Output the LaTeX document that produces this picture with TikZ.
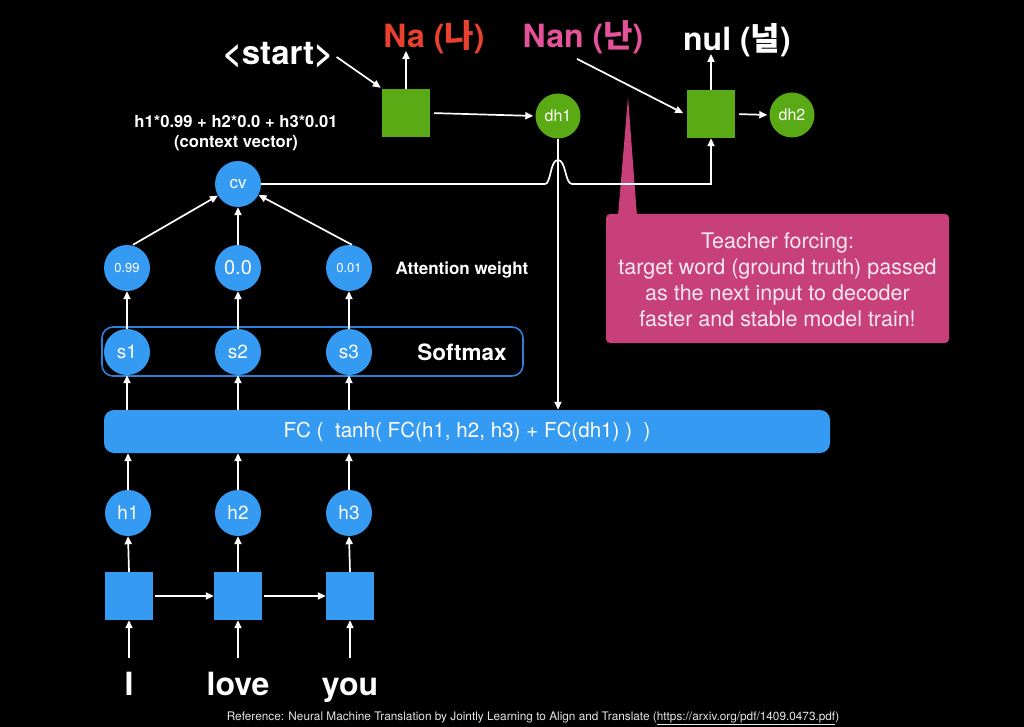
\documentclass[tikz,border=0pt]{standalone}
\usepackage{fontspec}
\setmainfont{TeX Gyre Heros}
\newfontfamily\kr{Noto Sans CJK KR}
\usetikzlibrary{arrows.meta}
\definecolor{cblue}{RGB}{52,154,242}
\definecolor{cbluedark}{RGB}{44,128,215}
\definecolor{cgreen}{RGB}{90,170,22}
\definecolor{cred}{RGB}{234,64,48}
\definecolor{cpinktxt}{RGB}{228,82,154}
\definecolor{cpink}{RGB}{200,64,122}
\definecolor{cpinklight}{RGB}{250,232,240}
\newcommand{\fsz}[1]{\fontsize{#1}{#1}\selectfont}
\begin{document}
\begin{tikzpicture}[x=1pt,y=-1pt,
  bcirc/.style={circle, fill=cblue, minimum size=46pt, inner sep=0pt, text=white, font=\fsz{19}},
  gcirc/.style={circle, fill=cgreen, minimum size=45pt, inner sep=0pt, text=white, font=\fsz{16}},
  bsq/.style={rectangle, fill=cblue, minimum size=48pt, inner sep=0pt},
  gsq/.style={rectangle, fill=cgreen, minimum size=48pt, inner sep=0pt},
  arr/.style={-{Triangle[length=8pt,width=7pt]}, white, line width=1.7pt},
  biglabel/.style={font=\bfseries\fsz{32}, inner sep=0pt},
  wtext/.style={text=white, inner sep=0pt}
]
\fill[black] (0,0) rectangle (1024,727);
\useasboundingbox (0,0) rectangle (1024,727);

% top labels
\node[biglabel, font=\bfseries\fsz{33}, text=white] (start) at (278,55) {<start>};
\node[biglabel, text=cred] (na) at (434,37) {Na ({\kr 나})};
\node[biglabel, text=cpinktxt] (nan) at (583,37) {Nan ({\kr 난})};
\node[biglabel, text=white] (nul) at (737,40) {nul ({\kr 널})};

% decoder
\node[gsq] (g1) at (406,113) {};
\node[gsq] (g2) at (711,114) {};
\node[gcirc] (dh1) at (558,116) {dh1};
\node[gcirc] (dh2) at (792,115) {dh2};

% context vector
\node[wtext, font=\bfseries\fsz{16.6}, align=center] (cvtext) at (236,133) {h1*0.99 + h2*0.0 + h3*0.01\\[4pt](context vector)};
\node[bcirc, font=\fsz{17}] (cv) at (238,184) {cv};

% attention weights
\node[bcirc, font=\fsz{13}] (a1) at (127,268) {0.99};
\node[bcirc, font=\fsz{20}] (a2) at (238,268) {0.0};
\node[bcirc, font=\fsz{13}] (a3) at (349,268) {0.01};
\node[wtext, font=\bfseries\fsz{17}] (attn) at (462,270) {Attention weight};

% softmax
\node[bcirc] (s1) at (127,352) {s1};
\node[bcirc] (s2) at (238,352) {s2};
\node[bcirc] (s3) at (349,352) {s3};
\node[draw=cbluedark, line width=1.6pt, rounded corners=11pt, minimum width=421pt, minimum height=49pt, inner sep=0pt] (smbox) at (312.5,351.5) {};
\node[wtext, font=\bfseries\fsz{22.5}] (smtext) at (462,352) {Softmax};

% FC bar
\node[fill=cblue, rounded corners=10pt, minimum width=726pt, minimum height=43pt, inner sep=0pt, text=white, font=\fsz{20.6}] (fc) at (467,431.5) {FC (\ \ tanh( FC(h1, h2, h3) + FC(dh1) ) \ )};

% encoder
\node[bcirc] (h1) at (128,513) {h1};
\node[bcirc] (h2) at (238,513) {h2};
\node[bcirc] (h3) at (349,513) {h3};
\node[bsq] (e1) at (129,596) {};
\node[bsq] (e2) at (238,596) {};
\node[bsq] (e3) at (350,596) {};
\node[wtext, font=\bfseries\fsz{32}, anchor=base] (w1) at (129,695) {I};
\node[wtext, font=\bfseries\fsz{32}, anchor=base] (w2) at (238,695) {love};
\node[wtext, font=\bfseries\fsz{32}, anchor=base] (w3) at (350,695) {you};
\coordinate (i1) at (129,658);
\coordinate (i2) at (238,658);
\coordinate (i3) at (350,658);

% callout
\fill[cpink] (618,216) -- (628,97) -- (637,216) -- cycle;
\node[fill=cpink, rounded corners=4pt, minimum width=343pt, minimum height=129pt, inner sep=0pt] (callout) at (777.5,278.5) {};
\node[text=cpinklight, font=\fsz{21.5}, align=center, inner sep=0pt] (callouttext) at (777.5,280) {Teacher forcing:\\[4.5pt]target word (ground truth) passed\\[4.5pt]as the next input to decoder\\[4.5pt]faster and stable model train!};

% reference
\node[text=white!80!gray, font=\fsz{11.8}, inner sep=0pt] (ref) at (533,718) {Reference: Neural Machine Translation by Jointly Learning to Align and Translate (\underline{https://arxiv.org/pdf/1409.0473.pdf})};

% connectors top
\draw[arr] ([xshift=3pt,yshift=-2pt]start.east) -- ([xshift=-1pt,yshift=1pt]g1.north west);
\draw[arr] (g1.north) -- ([yshift=3pt]g1.north |- na.south);
\draw[arr, shorten <=4pt, shorten >=2pt] (g1.east) -- (dh1.west);
\draw[arr, shorten >=4pt] ([xshift=-6pt,yshift=-5pt]nan.south) -- ([yshift=-1pt]g2.west);
\draw[arr] (g2.north) -- ([yshift=3pt]g2.north |- nul.south);
\draw[arr, shorten <=4pt, shorten >=2pt] (g2.east) -- (dh2.west);

% context vector to decoder with hop
\coordinate (hopL) at (545,184);
\coordinate (hopT) at (558,160);
\coordinate (hopR) at (572,184);
\coordinate (cvcorner) at (711,184);
\draw[arr] (cv.east) -- (hopL) .. controls (551,184) and (550,160) .. (hopT) .. controls (566,160) and (565,184) .. (hopR) -- (cvcorner) -- (g2.south);

% dh1 down to FC
\draw[arr] (dh1.south) -- (dh1.south |- fc.north);

% attention to cv
\draw[arr] ([xshift=6pt]a1.north) -- (cv);
\draw[arr] (a2.north) -- (cv.south);
\draw[arr] ([xshift=3pt]a3.north) -- (cv);

% vertical flow
\foreach \i in {1,2,3} {
  \draw[arr] (s\i.north) -- (a\i.south);
  \draw[arr] (s\i.south |- fc.north) -- (s\i.south);
  \draw[arr] (h\i.north) -- (h\i.north |- fc.south);
  \draw[arr] (e\i.north) -- (h\i.south);
  \draw[arr] (i\i) -- (e\i.south);
}
\draw[arr, shorten <=2pt] (e1.east) -- (e2.west);
\draw[arr, shorten <=2pt] (e2.east) -- (e3.west);
\end{tikzpicture}
\end{document}
